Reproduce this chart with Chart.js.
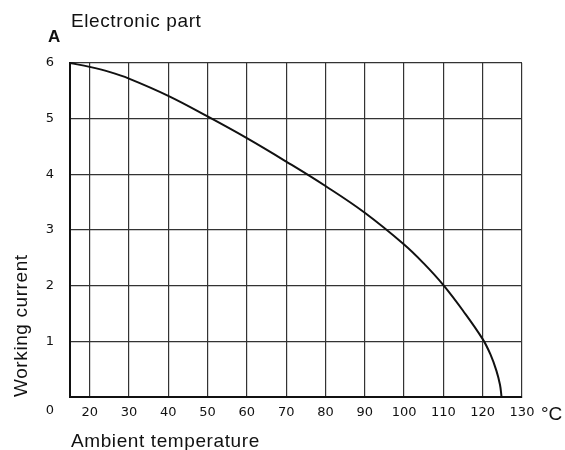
<!DOCTYPE html>
<html>
<head>
<meta charset="utf-8">
<script src="https://cdn.jsdelivr.net/npm/chart.js@4"></script>
<style>
  html, body { margin: 0; padding: 0; background: #fff; }
</style>
</head>
<body>
<canvas id="chart_current" width="565" height="450"></canvas>
<script>
// derating curve
const temps = [15, 20, 25, 30, 40, 50, 60, 70, 80, 90, 100, 105, 110, 115, 120, 122, 123.5, 124.4, 124.8];
const currents = [6, 5.93, 5.84, 5.72, 5.41, 5.04, 4.65, 4.23, 3.79, 3.31, 2.74, 2.40, 2.01, 1.55, 1.04, 0.76, 0.47, 0.22, 0];
const xTicks = [20, 30, 40, 50, 60, 70, 80, 90, 100, 110, 120, 130];
const yTicks = [1, 2, 3, 4, 5, 6];

const ink = '#111';
const tickFont = { family: '"DejaVu Sans", sans-serif', size: 13 };

// extra labels that sit outside the axes
const extraText = {
    id: 'extraText',
    afterDraw(chart) {
        const ctx = chart.ctx;
        ctx.save();
        ctx.fillStyle = ink;
        ctx.textBaseline = 'alphabetic';
        ctx.font = '19px "Liberation Sans", Arial, sans-serif';
        ctx.letterSpacing = '0.6px';
        ctx.fillText('Electronic part', 71, 27);
        ctx.fillText('Ambient temperature', 71, 447);
        ctx.save();
        ctx.translate(27, 397);
        ctx.rotate(-Math.PI / 2);
        ctx.fillText('Working current', 0, 0);
        ctx.restore();
        ctx.letterSpacing = '0px';
        ctx.font = 'bold 17px "Liberation Sans", Arial, sans-serif';
        ctx.fillText('A', 48, 42);
        ctx.font = '19px "Liberation Sans", Arial, sans-serif';
        ctx.fillText('°C', 541, 420);
        ctx.font = '13px "DejaVu Sans", sans-serif';
        ctx.textAlign = 'center';
        ctx.textBaseline = 'middle';
        ctx.fillText('0', 50, 411);
        ctx.restore();
    }
};

const ctx = document.getElementById('chart_current').getContext('2d');
const chart = new Chart(ctx, {
    type: 'line',
    data: {
        datasets: [{
            data: temps.map((t, i) => ({ x: t, y: currents[i] })),
            borderColor: ink,
            borderWidth: 2,
            pointRadius: 0,
            fill: false,
            tension: 0.4,
            clip: 4
        }]
    },
    options: {
        responsive: false,
        animation: false,
        layout: { padding: { top: 63, right: 43, left: 0, bottom: 0 } },
        plugins: {
            legend: { display: false },
            title: { display: false },
            tooltip: { enabled: false }
        },
        scales: {
            x: {
                type: 'linear',
                min: 15,
                max: 130,
                afterBuildTicks: (scale) => { scale.ticks = xTicks.map(v => ({ value: v })); },
                afterFit: (scale) => { scale.height = 53; },
                ticks: { color: ink, font: tickFont, padding: 8, maxRotation: 0, autoSkip: false },
                grid: { color: '#333', lineWidth: 1.2, drawTicks: false },
                border: { color: ink, width: 2 }
            },
            y: {
                min: 0,
                max: 6,
                afterBuildTicks: (scale) => { scale.ticks = yTicks.map(v => ({ value: v })); },
                afterFit: (scale) => { scale.width = 70; },
                ticks: { color: ink, font: tickFont, padding: 16 },
                grid: { color: '#333', lineWidth: 1.2, drawTicks: false },
                border: { color: ink, width: 2 }
            }
        }
    },
    plugins: [extraText]
});
</script>
</body>
</html>
